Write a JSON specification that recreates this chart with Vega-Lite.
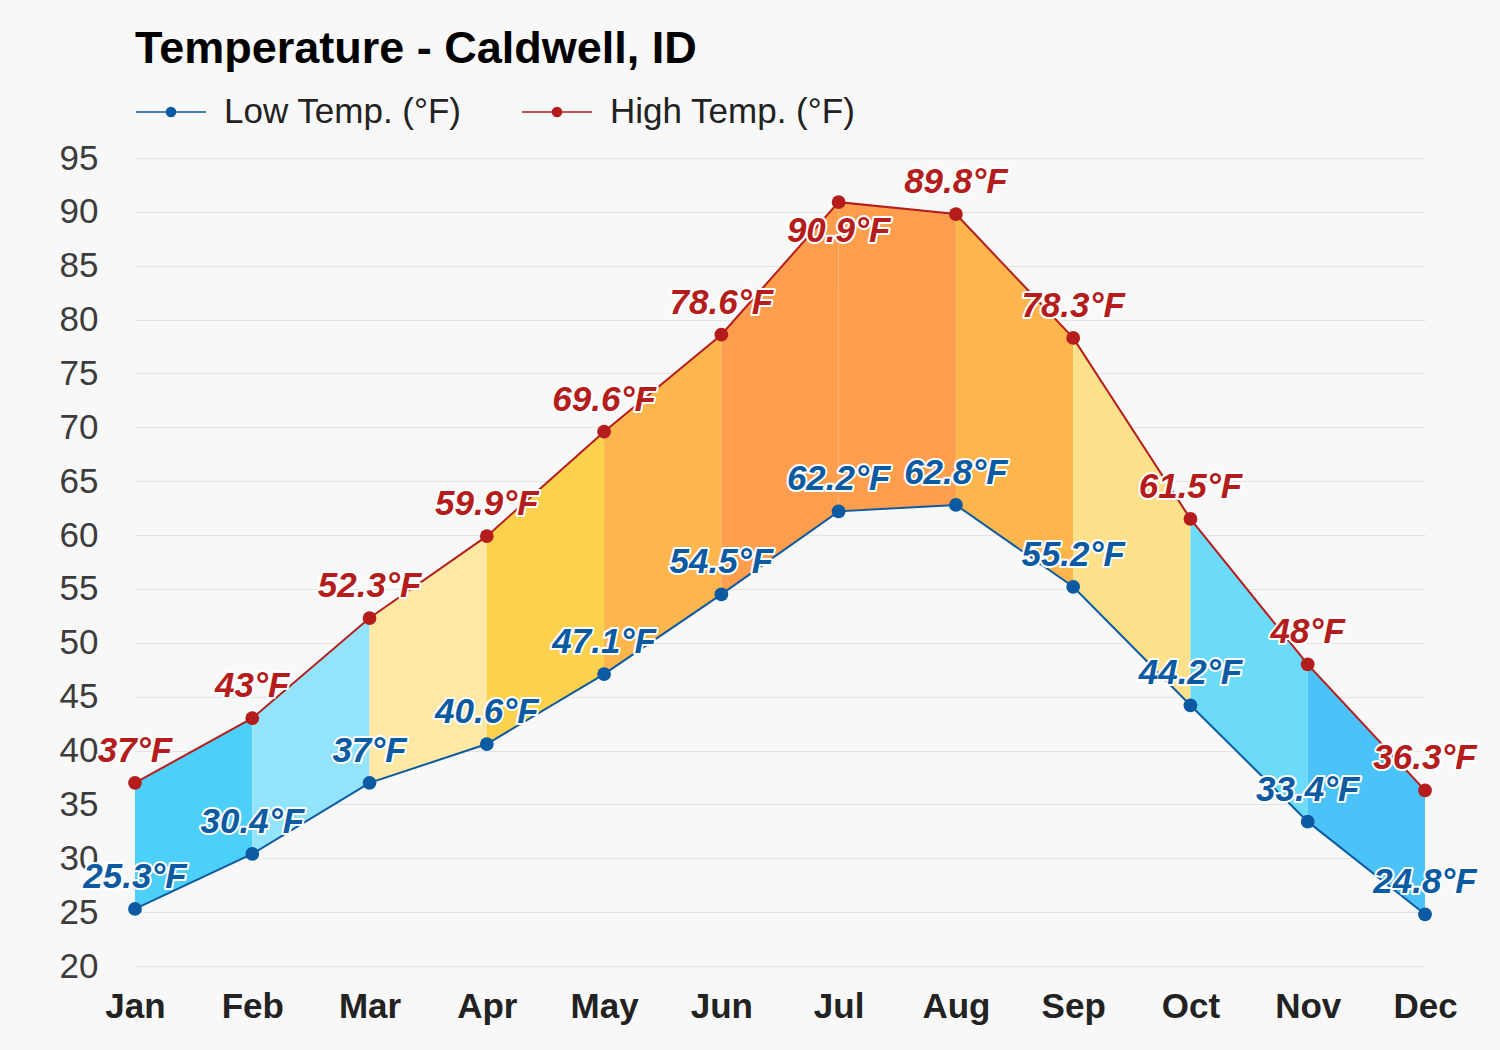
{
  "$schema": "https://vega.github.io/schema/vega-lite/v6.json",
  "autosize": {"type": "none"},
  "width": 1290,
  "height": 808,
  "padding": {"left": 135, "top": 158, "right": 75, "bottom": 84},
  "background": "#f8f8f8",
  "config": {
    "font": "Liberation Sans",
    "view": {"stroke": null}
  },
  "title": {
    "text": "Temperature - Caldwell, ID",
    "anchor": "start",
    "frame": "group",
    "fontSize": 45,
    "fontWeight": "bold",
    "color": "#000000",
    "font": "Liberation Sans",
    "offset": 4
  },
  "datasets": {
    "temps": [
      {"month": "Jan", "low": 25.3, "high": 37},
      {"month": "Feb", "low": 30.4, "high": 43},
      {"month": "Mar", "low": 37, "high": 52.3},
      {"month": "Apr", "low": 40.6, "high": 59.9},
      {"month": "May", "low": 47.1, "high": 69.6},
      {"month": "Jun", "low": 54.5, "high": 78.6},
      {"month": "Jul", "low": 62.2, "high": 90.9},
      {"month": "Aug", "low": 62.8, "high": 89.8},
      {"month": "Sep", "low": 55.2, "high": 78.3},
      {"month": "Oct", "low": 44.2, "high": 61.5},
      {"month": "Nov", "low": 33.4, "high": 48},
      {"month": "Dec", "low": 24.8, "high": 36.3}
    ],
    "bands": [
      {"seg": "s01", "month": "Jan", "low": 25.3, "high": 37},
      {"seg": "s01", "month": "Feb", "low": 30.4, "high": 43},
      {"seg": "s02", "month": "Feb", "low": 30.4, "high": 43},
      {"seg": "s02", "month": "Mar", "low": 37, "high": 52.3},
      {"seg": "s03", "month": "Mar", "low": 37, "high": 52.3},
      {"seg": "s03", "month": "Apr", "low": 40.6, "high": 59.9},
      {"seg": "s04", "month": "Apr", "low": 40.6, "high": 59.9},
      {"seg": "s04", "month": "May", "low": 47.1, "high": 69.6},
      {"seg": "s05", "month": "May", "low": 47.1, "high": 69.6},
      {"seg": "s05", "month": "Jun", "low": 54.5, "high": 78.6},
      {"seg": "s06", "month": "Jun", "low": 54.5, "high": 78.6},
      {"seg": "s06", "month": "Jul", "low": 62.2, "high": 90.9},
      {"seg": "s07", "month": "Jul", "low": 62.2, "high": 90.9},
      {"seg": "s07", "month": "Aug", "low": 62.8, "high": 89.8},
      {"seg": "s08", "month": "Aug", "low": 62.8, "high": 89.8},
      {"seg": "s08", "month": "Sep", "low": 55.2, "high": 78.3},
      {"seg": "s09", "month": "Sep", "low": 55.2, "high": 78.3},
      {"seg": "s09", "month": "Oct", "low": 44.2, "high": 61.5},
      {"seg": "s10", "month": "Oct", "low": 44.2, "high": 61.5},
      {"seg": "s10", "month": "Nov", "low": 33.4, "high": 48},
      {"seg": "s11", "month": "Nov", "low": 33.4, "high": 48},
      {"seg": "s11", "month": "Dec", "low": 24.8, "high": 36.3}
    ]
  },
  "encoding": {
    "x": {
      "field": "month",
      "type": "ordinal",
      "scale": {"type": "point", "padding": 0, "domain": ["Jan","Feb","Mar","Apr","May","Jun","Jul","Aug","Sep","Oct","Nov","Dec"]},
      "axis": {
        "title": null,
        "domain": false,
        "ticks": false,
        "grid": false,
        "labelAngle": 0,
        "labelFontSize": 35,
        "labelFontWeight": "bold",
        "labelColor": "#222222",
        "labelPadding": 23
      }
    }
  },
  "layer": [
    {
      "data": {"name": "bands"},
      "mark": {"type": "area", "opacity": 1, "line": false},
      "encoding": {
        "y": {
          "field": "high",
          "type": "quantitative",
          "scale": {"domain": [20, 95], "nice": false, "zero": false},
          "axis": {
            "title": null,
            "values": [20,25,30,35,40,45,50,55,60,65,70,75,80,85,90,95],
            "domain": false,
            "ticks": false,
            "gridColor": "#e3e3e3",
            "gridWidth": 1,
            "labelFontSize": 35,
            "labelColor": "#3c3c3c",
            "labelPadding": 37
          }
        },
        "y2": {"field": "low"},
        "fill": {
          "field": "seg",
          "type": "nominal",
          "legend": null,
          "scale": {
            "domain": ["s01","s02","s03","s04","s05","s06","s07","s08","s09","s10","s11"],
            "range": ["#4ccff9","#93e3fb","#fde8a5","#fcd14d","#fcb64d","#fd9e4e","#fd9e4e","#fcb64d","#fde08a","#6cdbfa","#4cc3f8"]
          }
        },
        "detail": {"field": "seg"}
      }
    },
    {
      "data": {"name": "temps"},
      "transform": [
        {"fold": ["low", "high"], "as": ["key", "value"]},
        {"calculate": "format(datum.value, '.1~f') + '°F'", "as": "label"}
      ],
      "encoding": {
        "y": {"field": "value", "type": "quantitative"},
        "color": {
          "field": "key",
          "type": "nominal",
          "scale": {"domain": ["low", "high"], "range": ["#0b5aa2", "#b51d1d"]},
          "legend": {
            "title": null,
            "orient": "top",
            "direction": "horizontal",
            "offset": 28,
            "padding": 0,
            "labelExpr": "datum.label == 'low' ? 'Low Temp. (°F)' : 'High Temp. (°F)'",
            "labelFontSize": 35,
            "labelLimit": 500,
            "labelColor": "#222222",
            "labelOffset": 17,
            "columnPadding": 57,
            "symbolType": "M-1,0L1,0M0.13,0A0.13,0.13,0,1,1,-0.13,0A0.13,0.13,0,1,1,0.13,0Z",
            "symbolSize": 4900,
            "symbolStrokeWidth": 1.5,
            "symbolOpacity": 1,
            "encode": {
              "symbols": {
                "update": {
                  "fill": {"scale": "color", "field": "value"},
                  "stroke": {"scale": "color", "field": "value"},
                  "strokeWidth": {"value": 1.5},
                  "opacity": {"value": 1}
                }
              }
            }
          }
        }
      },
      "layer": [
        {"mark": {"type": "line", "strokeWidth": 2}},
        {"mark": {"type": "circle", "size": 190, "opacity": 1}},
        {
          "transform": [{"filter": "!(datum.month == 'Jul' && datum.key == 'high')"}],
          "mark": {"type": "text", "fontSize": 35, "fontWeight": "bold", "fontStyle": "italic", "dy": -21, "baseline": "alphabetic", "stroke": "#ffffff", "strokeWidth": 4, "strokeJoin": "round"},
          "encoding": {"text": {"field": "label"}, "color": {"value": "#ffffff"}}
        },
        {
          "transform": [{"filter": "!(datum.month == 'Jul' && datum.key == 'high')"}],
          "mark": {"type": "text", "fontSize": 35, "fontWeight": "bold", "fontStyle": "italic", "dy": -21, "baseline": "alphabetic"},
          "encoding": {"text": {"field": "label"}}
        },
        {
          "transform": [{"filter": "datum.month == 'Jul' && datum.key == 'high'"}],
          "mark": {"type": "text", "fontSize": 35, "fontWeight": "bold", "fontStyle": "italic", "dy": 40, "baseline": "alphabetic", "stroke": "#ffffff", "strokeWidth": 4, "strokeJoin": "round"},
          "encoding": {"text": {"field": "label"}, "color": {"value": "#ffffff"}}
        },
        {
          "transform": [{"filter": "datum.month == 'Jul' && datum.key == 'high'"}],
          "mark": {"type": "text", "fontSize": 35, "fontWeight": "bold", "fontStyle": "italic", "dy": 40, "baseline": "alphabetic"},
          "encoding": {"text": {"field": "label"}}
        }
      ]
    }
  ]
}
